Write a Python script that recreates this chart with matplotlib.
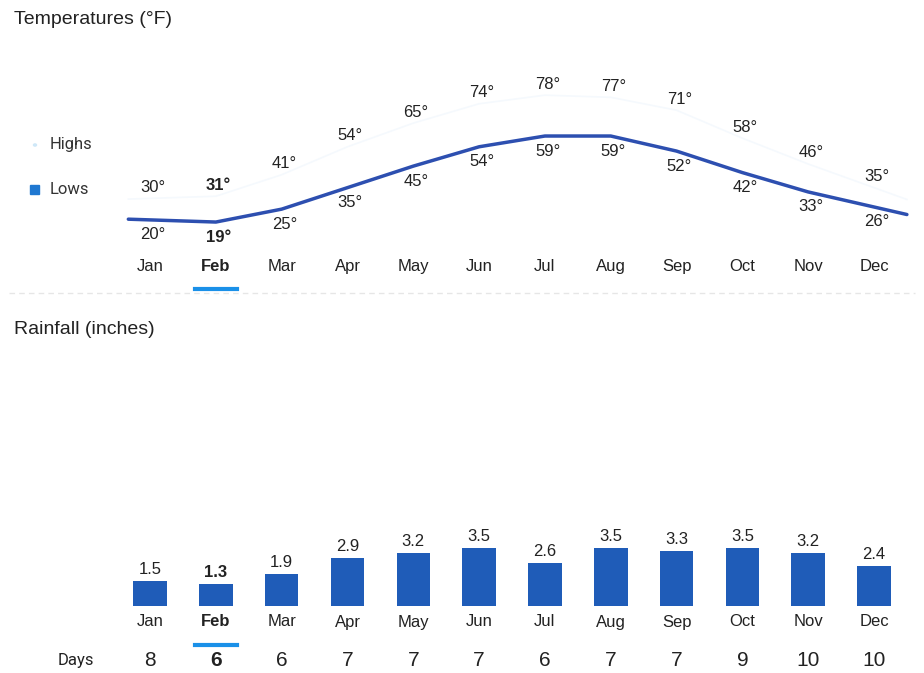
import numpy as np
import matplotlib

matplotlib.use("Agg")

import matplotlib.pyplot as plt
import matplotlib.transforms as mtransforms

plt.rcParams["font.family"] = ["Liberation Sans", "DejaVu Sans"]

months = ["Jan", "Feb", "Mar", "Apr", "May", "Jun",
          "Jul", "Aug", "Sep", "Oct", "Nov", "Dec"]
highs = [30, 31, 41, 54, 65, 74, 78, 77, 71, 58, 46, 35]
lows = [20, 19, 25, 35, 45, 54, 59, 59, 52, 42, 33, 26]
rain = [1.5, 1.3, 1.9, 2.9, 3.2, 3.5, 2.6, 3.5, 3.3, 3.5, 3.2, 2.4]
days = [8, 6, 6, 7, 7, 7, 6, 7, 7, 9, 10, 10]
selected = 1  # Feb is highlighted

W, H = 924, 673
fig = plt.figure(figsize=(W / 100, H / 100), dpi=100)


def fy(px):
    # pixel row -> figure fraction
    return 1 - px / H


x = np.arange(len(months))
xlim = (-2.28, 11.76)

# ---- temperatures ----
ax1 = fig.add_axes([0, fy(250), 1, 180 / H])
ax1.set_xlim(*xlim)
ax1.set_ylim(6, 89.7)
ax1.axis("off")

# lines run a bit past the first and last month
x_ext = np.concatenate([[-0.33], x, [11.5]])
lows_ext = np.concatenate([[lows[0] + (lows[0] - lows[1]) * 0.33], lows,
                           [lows[-1] + (lows[-1] - lows[-2]) * 0.5]])
highs_ext = np.concatenate([[highs[0] + (highs[0] - highs[1]) * 0.33], highs,
                            [highs[-1] + (highs[-1] - highs[-2]) * 0.5]])
ax1.plot(x_ext, highs_ext, color="#f5f9fd", lw=1.2)
ax1.plot(x_ext, lows_ext, color="#2d4fb0", lw=2.5, solid_capstyle="round")

for i in x:
    w = "bold" if i == selected else "normal"
    ax1.annotate(f"{highs[i]}°", (i, highs[i]), xytext=(2, 8),
                 textcoords="offset points", ha="center", va="center",
                 fontsize=12, color="#222222", fontweight=w)
    ax1.annotate(f"{lows[i]}°", (i, lows[i]), xytext=(2, -10.8),
                 textcoords="offset points", ha="center", va="center",
                 fontsize=12, color="#222222", fontweight=w)

tr1 = mtransforms.blended_transform_factory(ax1.transData, fig.transFigure)
for i, m in enumerate(months):
    fig.text(i, fy(267), m, transform=tr1, ha="center", va="center",
             fontsize=12, color="#222222",
             fontweight="bold" if i == selected else "normal")
ax1.plot([selected - 0.32, selected + 0.32], [fy(289)] * 2, transform=tr1,
         color="#1a90e8", lw=3, clip_on=False)
fig.lines.append(plt.Line2D([0.01, 0.99], [fy(293)] * 2, transform=fig.transFigure,
                            color="#e6e6e6", lw=1, ls=(0, (4, 3))))

fig.text(14 / W, fy(19), "Temperatures (°F)", ha="left", va="center",
         fontsize=14, color="#222222")

# legend
fig.text(50 / W, fy(145), "Highs", ha="left", va="center", fontsize=12,
         color="#333333", family=["Roboto", "DejaVu Sans"])
fig.text(50 / W, fy(190), "Lows", ha="left", va="center", fontsize=12,
         color="#333333", family=["Roboto", "DejaVu Sans"])
fig.patches.append(plt.Rectangle((30 / W, fy(194)), 9 / W, 9 / H,
                                 transform=fig.transFigure, color="#1f78d1"))
fig.patches.append(plt.Circle((35 / W, fy(145)), 1.5 / W,
                              transform=fig.transFigure, color="#cfe8f8"))

# ---- rainfall ----
ax2 = fig.add_axes([0, fy(606), 1, 86 / H])
ax2.set_xlim(*xlim)
ax2.set_ylim(0, 5.18)
ax2.axis("off")
ax2.bar(x, rain, width=0.51, color="#1f5cb8")
for i in x:
    ax2.annotate(f"{rain[i]}", (i, rain[i]), xytext=(0, 8.5),
                 textcoords="offset points", ha="center", va="center",
                 fontsize=12, color="#222222",
                 fontweight="bold" if i == selected else "normal")

fig.text(14 / W, fy(330), "Rainfall (inches)", ha="left", va="center",
         fontsize=14, color="#222222")

tr2 = mtransforms.blended_transform_factory(ax2.transData, fig.transFigure)
for i, m in enumerate(months):
    w = "bold" if i == selected else "normal"
    fig.text(i, fy(622), m, transform=tr2, ha="center", va="center",
             fontsize=12, color="#222222", fontweight=w)
    fig.text(i, fy(660), str(days[i]), transform=tr2, ha="center", va="center",
             fontsize=15, color="#222222", fontweight=w)
ax2.plot([selected - 0.32, selected + 0.32], [fy(645)] * 2, transform=tr2,
         color="#1a90e8", lw=3, clip_on=False)
fig.text(58 / W, fy(660), "Days", ha="left", va="center", fontsize=12,
         color="#222222", family=["Roboto", "DejaVu Sans"])

fig.savefig("out.png", dpi=100, facecolor="white")
